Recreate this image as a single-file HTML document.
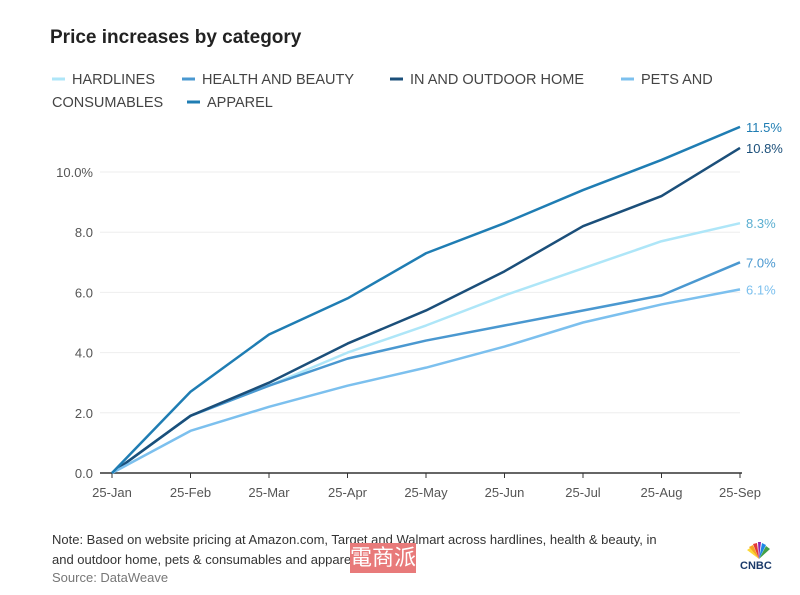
<!DOCTYPE html>
<html><head><meta charset="utf-8"><style>
body{margin:0;background:#fff;font-family:"Liberation Sans","Noto Sans CJK SC",sans-serif;}
#wrap{position:relative;width:800px;height:595px;overflow:hidden;}
.t{position:absolute;white-space:nowrap;}
</style></head><body>
<div id="wrap">
<div class="t" style="left:50px;top:27px;font-size:19px;font-weight:bold;color:#222;">Price increases by category</div>
<svg id="chart" width="800" height="595" style="position:absolute;left:0;top:0"></svg>
<div class="t" style="left:52px;top:530px;font-size:13px;color:#333;line-height:20px;">Note: Based on website pricing at Amazon.com, Target and Walmart across hardlines, health &amp; beauty, in<br>and outdoor home, pets &amp; consumables and apparel</div>
<div class="t" style="left:52px;top:570px;font-size:13px;color:#777;">Source: DataWeave</div>
<div class="t" style="left:350px;top:543px;width:66px;height:30px;background:#e87a7a;color:#fff;font-size:22px;line-height:30px;">電商派</div>
<div class="t" style="left:740px;top:560px;font-size:11px;font-weight:bold;color:#1a3a6a;">CNBC</div>
<svg width="30" height="20" style="position:absolute;left:744px;top:541px">
<path d="M15 18 L5 6 L9 4Z" fill="#f5a623"/><path d="M15 18 L9 3 L13 2Z" fill="#e53935"/><path d="M15 18 L14 1 L17 1Z" fill="#8e24aa"/><path d="M15 18 L18 2 L22 4Z" fill="#1e88e5"/><path d="M15 18 L22 5 L26 8Z" fill="#43a047"/><path d="M15 18 L3 9 L6 7Z" fill="#fdd835"/></svg>
</div>
<script>
const categories=["25-Jan","25-Feb","25-Mar","25-Apr","25-May","25-Jun","25-Jul","25-Aug","25-Sep"];
const yTicks=[0,2,4,6,8,10];
const yTickLabels=["0.0","2.0","4.0","6.0","8.0","10.0%"];
const seriesNames=["HARDLINES","HEALTH AND BEAUTY","IN AND OUTDOOR HOME","PETS AND CONSUMABLES","APPAREL"];
const hardlines=[0,1.9,2.9,4.0,4.9,5.9,6.8,7.7,8.3];
const healthBeauty=[0,1.9,2.9,3.8,4.4,4.9,5.4,5.9,7.0];
const inOutdoorHome=[0,1.9,3.0,4.3,5.4,6.7,8.2,9.2,10.8];
const petsConsumables=[0,1.4,2.2,2.9,3.5,4.2,5.0,5.6,6.1];
const apparel=[0,2.7,4.6,5.8,7.3,8.3,9.4,10.4,11.5];
const endLabels=["8.3%","7.0%","10.8%","6.1%","11.5%"];
const colors=["#aee6f8","#4a98d0","#1b4f7a","#7cc0ee","#1f7db3"];
const series=[hardlines,healthBeauty,inOutdoorHome,petsConsumables,apparel];
const svg=document.getElementById('chart');const NS="http://www.w3.org/2000/svg";
const x=i=>112+i*(628/(categories.length-1));
const y=v=>473-v*30.1;
function mk(t,a){const e=document.createElementNS(NS,t);for(const k in a)e.setAttribute(k,a[k]);svg.appendChild(e);return e;}
yTicks.forEach((v,i)=>{
 if(v>0){const g=mk('line',{x1:100,x2:740,y1:y(v),y2:y(v),stroke:'#eee','stroke-width':1});
 
 }
 const t=mk('text',{x:93,y:y(v)+5,'text-anchor':'end','font-size':13,fill:'#555'});t.textContent=yTickLabels[i];
 
 
});
const ax=mk('line',{x1:100,x2:742,y1:473,y2:473,stroke:'#333','stroke-width':1.5});


categories.forEach((c,i)=>{
 mk('line',{x1:x(i),x2:x(i),y1:473,y2:478,stroke:'#333'});
 const t=mk('text',{x:x(i),y:497,'text-anchor':'middle','font-size':13,fill:'#555'});t.textContent=c;
 
 
});
series.forEach((s,k)=>{
 const p=mk('polyline',{points:s.map((v,i)=>x(i)+','+y(v)).join(' '),fill:'none',stroke:colors[k],'stroke-width':2.5,'stroke-linejoin':'round'});
 
 
 const t=mk('text',{x:746,y:y(s[s.length-1])+5,'font-size':13,fill:colors[k]==='#aee6f8'?'#5aaed0':colors[k]});t.textContent=endLabels[k];
 
 
});
// legend
const legPos=[[52,84],[182,84],[390,84],[621,84],[187,107]];
seriesNames.forEach((n,k)=>{
 const [lx,ly]=legPos[k];
 mk('line',{x1:lx,x2:lx+13,y1:ly-5,y2:ly-5,stroke:colors[k],'stroke-width':3});
 const t=mk('text',{x:lx+20,y:ly,'font-size':14.5,fill:'#444'});
 
 
 if(k===3){t.textContent="PETS AND";const t2=mk('text',{x:52,y:107,'font-size':14.5,fill:'#444'});t2.textContent="CONSUMABLES";
 
 }
 else t.textContent=n;
});
</script>
</body></html>
